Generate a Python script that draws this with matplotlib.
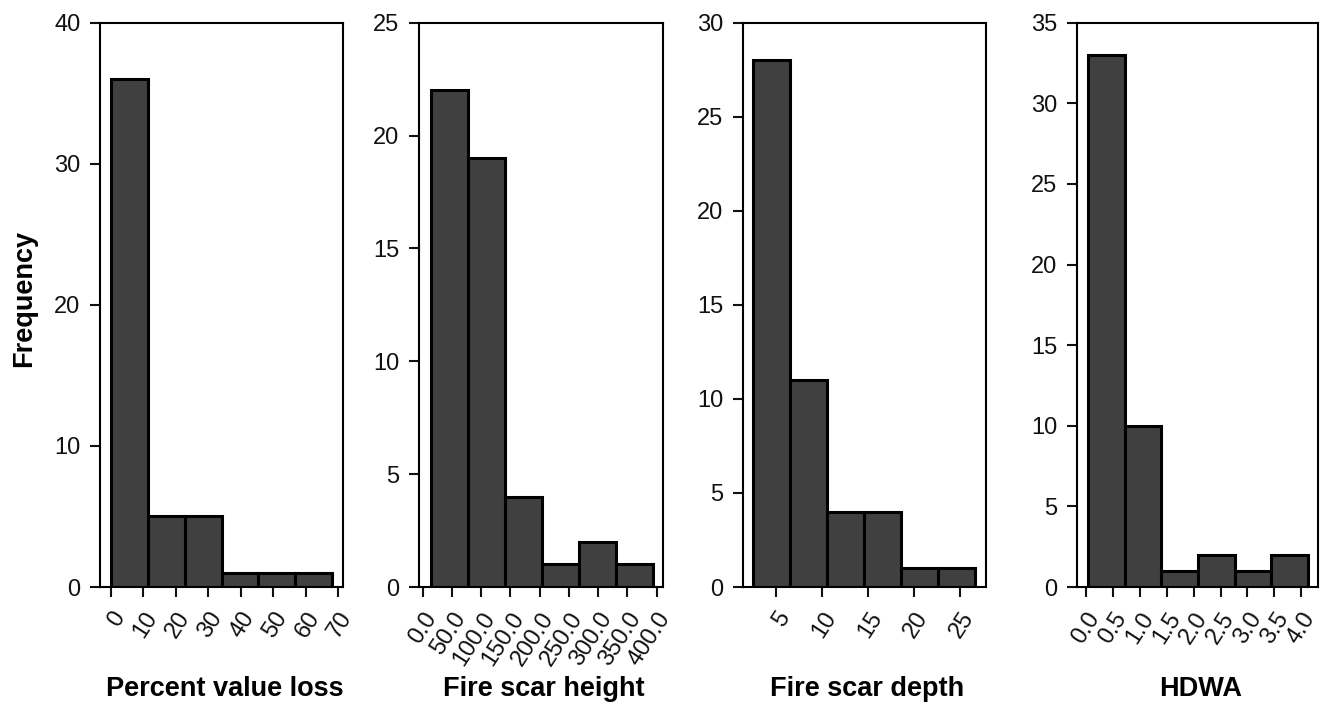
import matplotlib
matplotlib.use("Agg")
import matplotlib.pyplot as plt

plt.rcParams['font.family'] = ['Liberation Sans', 'DejaVu Sans']

# ---- data ----
pvl_edges = [0.0, 11.35, 22.7, 34.05, 45.4, 56.75, 68.1]
pvl_counts = [36, 5, 5, 1, 1, 1]
pvl_ticks = [0, 10, 20, 30, 40, 50, 60, 70]
pvl_ticklabels = ['0', '10', '20', '30', '40', '50', '60', '70']

fsh_edges = [13.7, 77.1, 140.5, 203.9, 267.3, 330.7, 394.1]
fsh_counts = [22, 19, 4, 1, 2, 1]
fsh_ticks = [0, 50, 100, 150, 200, 250, 300, 350, 400]
fsh_ticklabels = ['0.0', '50.0', '100.0', '150.0', '200.0', '250.0', '300.0', '350.0', '400.0']

fsd_edges = [2.45, 6.49, 10.53, 14.57, 18.61, 22.65, 26.69]
fsd_counts = [28, 11, 4, 4, 1, 1]
fsd_ticks = [5, 10, 15, 20, 25]
fsd_ticklabels = ['5', '10', '15', '20', '25']

hdwa_edges = [0.04, 0.72, 1.40, 2.08, 2.76, 3.44, 4.12]
hdwa_counts = [33, 10, 1, 2, 1, 2]
hdwa_ticks = [0.0, 0.5, 1.0, 1.5, 2.0, 2.5, 3.0, 3.5, 4.0]
hdwa_ticklabels = ['0.0', '0.5', '1.0', '1.5', '2.0', '2.5', '3.0', '3.5', '4.0']

xlabels = ['Percent value loss', 'Fire scar height', 'Fire scar depth', 'HDWA']
ymax = [40, 25, 30, 35]
ystep = [10, 5, 5, 5]
xlims = [(-3.4, 71.5), (-6, 411), (1.36, 27.84), (-0.165, 4.31)]

panels = [
    (pvl_edges, pvl_counts, pvl_ticks, pvl_ticklabels),
    (fsh_edges, fsh_counts, fsh_ticks, fsh_ticklabels),
    (fsd_edges, fsd_counts, fsd_ticks, fsd_ticklabels),
    (hdwa_edges, hdwa_counts, hdwa_ticks, hdwa_ticklabels),
]

W, H = 1327, 706
fig = plt.figure(figsize=(W / 100, H / 100), dpi=100)
fig.patch.set_facecolor('white')

# axes pixel boxes (left, right)
boxes = [(100, 343), (419, 663), (743, 986), (1077, 1318)]
top_px, bot_px = 22.7, 587

for i, (edges, counts, ticks, tlabels) in enumerate(panels):
    l, r = boxes[i]
    ax = fig.add_axes([l / W, 1 - bot_px / H, (r - l) / W, (bot_px - top_px) / H])
    lefts = edges[:-1]
    widths = [edges[k + 1] - edges[k] for k in range(len(counts))]
    ax.bar(lefts, counts, width=widths, align='edge', color='#404040',
           edgecolor='black', linewidth=2.2, zorder=2)
    ax.set_xlim(*xlims[i])
    ax.set_ylim(0, ymax[i])
    ax.set_yticks(list(range(0, ymax[i] + 1, ystep[i])))
    ax.set_xticks(ticks)
    ax.set_xticklabels(tlabels, rotation=57, ha='right', va='top',
                       rotation_mode='anchor')
    for s in ax.spines.values():
        s.set_linewidth(1.5)
        s.set_color('black')
    ax.tick_params(axis='both', direction='out', length=7, width=1.5,
                   labelsize=17, colors='#111111', pad=7)
    ax.tick_params(axis='x', pad=8)
    cx = (l + r) / 2 / W
    fig.text(cx + 3 / W, 1 - 689 / H, xlabels[i], ha='center', va='center',
             fontsize=19.5, fontweight='bold')

fig.text(24 / W, 1 - 298 / H, 'Frequency', rotation=90, ha='center',
         va='center', fontsize=19.5, fontweight='bold')

fig.savefig('out.png', dpi=100, facecolor='white')
